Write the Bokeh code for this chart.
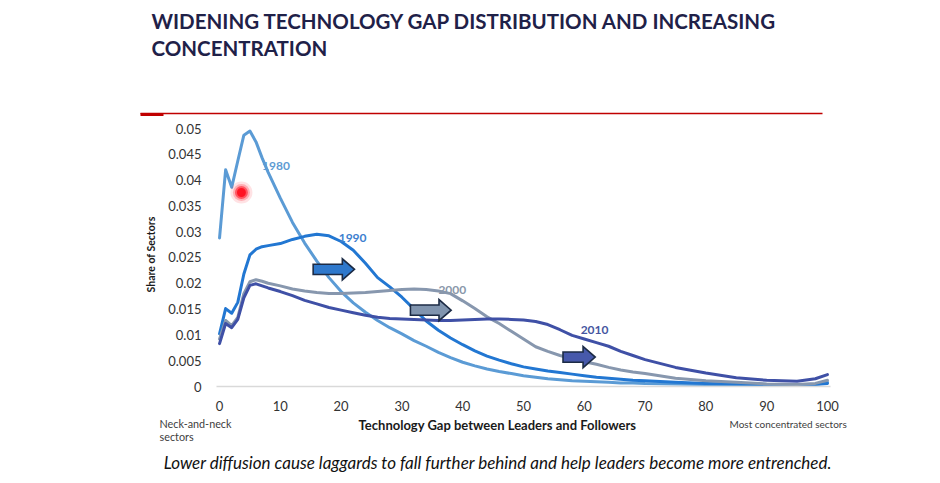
from bokeh.plotting import figure
from bokeh.layouts import column
from bokeh.models import (ColumnDataSource, FixedTicker, CustomJSTickFormatter,
                          Label, Range1d)
from bokeh.embed import file_html
from bokeh.resources import INLINE

# ---- data: share of sectors by technology gap (leaders vs followers) ----
gap = [0, 1, 2, 3, 4, 5, 6, 7, 8, 10, 12, 14, 16, 18, 20, 22, 24, 26, 28, 30,
       32, 34, 36, 38, 40, 42, 44, 46, 48, 50, 52, 54, 56, 58, 60, 62, 64, 66,
       68, 70, 75, 80, 85, 90, 95, 98, 100]

share_1980 = [0.0288, 0.0420, 0.0386, 0.0437, 0.0487, 0.0495, 0.0474, 0.0443,
              0.0415, 0.0365, 0.0318, 0.0278, 0.0243, 0.0211, 0.0184, 0.0162,
              0.0144, 0.0128, 0.0114, 0.0102, 0.0089, 0.0078, 0.0066, 0.0056,
              0.0047, 0.0040, 0.0034, 0.0029, 0.0025, 0.0021, 0.0018, 0.0015,
              0.0013, 0.0011, 0.0010, 0.0009, 0.0008, 0.0007, 0.0007, 0.0006,
              0.0005, 0.0004, 0.0004, 0.0003, 0.0003, 0.0004, 0.0008]

share_1990 = [0.0102, 0.0151, 0.0142, 0.0163, 0.0218, 0.0255, 0.0266, 0.0271,
              0.0273, 0.0277, 0.0285, 0.0291, 0.0295, 0.0292, 0.0281, 0.0264,
              0.0239, 0.0211, 0.0193, 0.0173, 0.0150, 0.0127, 0.0109, 0.0094,
              0.0081, 0.0069, 0.0059, 0.0051, 0.0044, 0.0038, 0.0034, 0.0030,
              0.0027, 0.0024, 0.0021, 0.0018, 0.0016, 0.0014, 0.0012, 0.0011,
              0.0008, 0.0006, 0.0005, 0.0004, 0.0003, 0.0004, 0.0006]

share_2000 = [0.0092, 0.0128, 0.0118, 0.0134, 0.0180, 0.0203, 0.0207, 0.0204,
              0.0200, 0.0195, 0.0189, 0.0185, 0.0182, 0.0180, 0.0180, 0.0181,
              0.0182, 0.0184, 0.0186, 0.0188, 0.0189, 0.0188, 0.0185, 0.0180,
              0.0166, 0.0151, 0.0135, 0.0122, 0.0107, 0.0092, 0.0077, 0.0068,
              0.0060, 0.0054, 0.0048, 0.0043, 0.0037, 0.0032, 0.0028, 0.0025,
              0.0016, 0.0011, 0.0008, 0.0005, 0.0004, 0.0006, 0.0012]

share_2010 = [0.0083, 0.0122, 0.0114, 0.0130, 0.0172, 0.0196, 0.0199, 0.0195,
              0.0191, 0.0184, 0.0176, 0.0167, 0.0160, 0.0153, 0.0148, 0.0143,
              0.0138, 0.0134, 0.0132, 0.0131, 0.0130, 0.0129, 0.0128, 0.0128,
              0.0129, 0.0130, 0.0131, 0.0131, 0.0130, 0.0129, 0.0126, 0.0120,
              0.0110, 0.0099, 0.0092, 0.0085, 0.0078, 0.0068, 0.0060, 0.0052,
              0.0037, 0.0026, 0.0017, 0.0012, 0.0010, 0.0015, 0.0023]

years = ["1980", "1990", "2000", "2010"]
y_ticks = [0, 0.005, 0.01, 0.015, 0.02, 0.025, 0.03, 0.035, 0.04, 0.045, 0.05]
x_ticks = [0, 10, 20, 30, 40, 50, 60, 70, 80, 90, 100]

# ---- styling ----
FONT = "Lato"
TITLE_COLOR = "#1f2148"
line_colors = {"1980": "#5b9bd5", "1990": "#2277d2", "2000": "#8797ae", "2010": "#3f50a6"}
label_colors = {"1980": "#5e9bd3", "1990": "#3d80cf", "2000": "#8a97aa", "2010": "#46569f"}
W = 940


def blank_panel(height):
    """A plain drawing strip with pixel-like coordinates (y grows downward)."""
    f = figure(width=W, height=height, output_backend="svg", toolbar_location=None,
               x_range=Range1d(0, W), y_range=Range1d(height, 0),
               min_border=0, min_border_left=0, min_border_right=0,
               min_border_top=0, min_border_bottom=0)
    f.axis.visible = False
    f.grid.visible = False
    f.outline_line_color = None
    f.background_fill_color = "white"
    f.border_fill_color = "white"
    f.frame_align = False
    return f


# ---- header: title and red rule ----
head = blank_panel(120)
head.add_layout(Label(x=151, y=20, text="WIDENING TECHNOLOGY GAP DISTRIBUTION AND INCREASING",
                      text_font=FONT, text_font_size="20.5px", text_font_style="bold",
                      text_color=TITLE_COLOR, text_baseline="middle"))
head.add_layout(Label(x=151, y=47, text="CONCENTRATION",
                      text_font=FONT, text_font_size="20.5px", text_font_style="bold",
                      text_color=TITLE_COLOR, text_baseline="middle"))
head.segment(x0=[140], y0=[113], x1=[822], y1=[113], line_color="#c00000", line_width=1.5)
head.segment(x0=[140], y0=[114], x1=[163], y1=[114], line_color="#c00000", line_width=3)

# ---- chart ----
p = figure(width=W, height=296, output_backend="svg", toolbar_location=None,
           x_range=Range1d(-0.5, 100.5), y_range=Range1d(0, 0.05116),
           min_border_left=216, min_border_right=110,
           min_border_top=2, min_border_bottom=30)
p.frame_align = False
p.outline_line_color = None
p.background_fill_color = "white"
p.border_fill_color = "white"
p.xgrid.grid_line_color = None
p.ygrid.grid_line_color = None

p.xaxis.ticker = FixedTicker(ticks=x_ticks)
p.yaxis.ticker = FixedTicker(ticks=y_ticks)
p.yaxis.formatter = CustomJSTickFormatter(code="return String(Math.round(tick * 1000) / 1000);")
for ax in (p.xaxis[0], p.yaxis[0]):
    ax.major_tick_line_color = None
    ax.minor_tick_line_color = None
    ax.major_label_text_font = FONT
    ax.major_label_text_font_size = "13px"
    ax.major_label_text_color = "#333333"
p.xaxis.axis_line_color = "#d9d9d9"
p.xaxis.axis_line_width = 1.5
p.xaxis.major_label_standoff = 8
p.yaxis.axis_line_color = None
p.yaxis.major_label_standoff = 9
p.yaxis.axis_label = "Share of Sectors"
p.yaxis.axis_label_text_font = FONT
p.yaxis.axis_label_text_font_size = "10.5px"
p.yaxis.axis_label_text_font_style = "bold"
p.yaxis.axis_label_text_color = "#1a1a1a"
p.yaxis.axis_label_standoff = 8

series = {"1980": share_1980, "1990": share_1990, "2000": share_2000, "2010": share_2010}
for yr in years:
    src = ColumnDataSource(dict(x=gap, y=series[yr]))
    p.line("x", "y", source=src, line_color=line_colors[yr], line_width=3,
           line_join="round", line_cap="round")

year_label_pos = {"1980": (7.0, 0.0428), "1990": (19.6, 0.0287),
                  "2000": (36.0, 0.0187), "2010": (59.4, 0.0110)}
for yr in years:
    lx, ly = year_label_pos[yr]
    p.add_layout(Label(x=lx, y=ly, text=yr, text_font=FONT, text_font_size="12px",
                       text_font_style="bold", text_color=label_colors[yr],
                       text_baseline="middle", text_align="left"))


def block_arrow(x0, x1, yc, head_len, shaft_half, head_half):
    xs = [x0, x1 - head_len, x1 - head_len, x1, x1 - head_len, x1 - head_len, x0]
    ys = [yc - shaft_half, yc - shaft_half, yc - head_half, yc,
          yc + head_half, yc + shaft_half, yc + shaft_half]
    return xs, ys


# shift arrows between decades
arrows = [(15.4, 22.2, 0.0227, "#2e78cc"),
          (31.4, 38.1, 0.0148, "#8094ae"),
          (56.5, 61.8, 0.0057, "#4759ab")]
for ax0, ax1, ayc, fc in arrows:
    xs, ys = block_arrow(ax0, ax1, ayc, 2.0, 0.00100, 0.00205)
    p.patch(xs, ys, fill_color=fc, line_color="#1c2b45", line_width=1.6,
            line_join="miter")

# pointer highlight
for sz, al in [(22, 0.12), (17, 0.25), (13, 0.55), (9, 0.95)]:
    p.scatter([3.6], [0.0376], size=sz, marker="circle", fill_color="#ff1020",
              fill_alpha=al, line_color=None)

# ---- footer: axis notes and caption ----
foot = blank_panel(67)
foot.add_layout(Label(x=497, y=8, text="Technology Gap between Leaders and Followers",
                      text_font=FONT, text_font_size="13px", text_font_style="bold",
                      text_color="#1a1a1a", text_align="center", text_baseline="middle"))
foot.add_layout(Label(x=159, y=7, text="Neck-and-neck", text_font=FONT,
                      text_font_size="10.8px", text_color="#404040", text_baseline="middle"))
foot.add_layout(Label(x=159, y=20, text="sectors", text_font=FONT,
                      text_font_size="10.8px", text_color="#404040", text_baseline="middle"))
foot.add_layout(Label(x=729, y=7, text="Most concentrated sectors", text_font=FONT,
                      text_font_size="10px", text_color="#404040", text_baseline="middle"))
foot.add_layout(Label(x=497.5, y=46,
                      text="Lower diffusion cause laggards to fall further behind and help leaders become more entrenched.",
                      text_font=FONT, text_font_size="17px", text_font_style="italic",
                      text_color="#111111", text_align="center", text_baseline="middle"))

layout = column(head, p, foot, spacing=0)
open("out.html", "w").write(file_html(layout, INLINE))
